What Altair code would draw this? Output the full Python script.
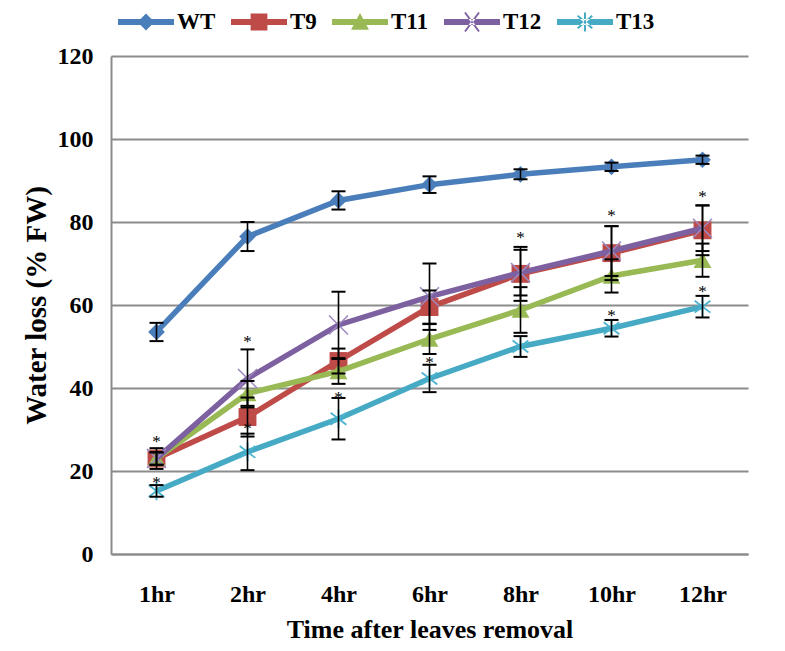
import altair as alt
import pandas as pd

# ---------------- data ----------------
times = ["1hr", "2hr", "4hr", "6hr", "8hr", "10hr", "12hr"]
series_names = ["WT", "T9", "T11", "T12", "T13"]

wt_vals = [53.5, 76.5, 85.2, 89.0, 91.5, 93.3, 95.0]
t9_vals = [23.0, 33.0, 46.5, 59.5, 67.5, 72.5, 78.0]
t11_vals = [23.0, 38.7, 44.0, 51.8, 58.8, 67.0, 70.8]
t12_vals = [23.0, 42.3, 55.2, 62.0, 67.8, 73.0, 78.5]
t13_vals = [15.2, 24.6, 32.6, 42.3, 50.0, 54.4, 59.6]

wt_err = [2.2, 3.5, 2.2, 2.0, 1.2, 1.0, 1.0]
t9_err = [2.5, 4.7, 3.0, 4.0, 6.5, 6.5, 6.0]
t11_err = [1.5, 3.0, 3.0, 3.6, 5.5, 4.0, 4.0]
t12_err = [1.5, 7.0, 8.0, 8.0, 5.5, 6.0, 5.5]
t13_err = [1.4, 4.4, 5.0, 3.3, 2.5, 2.0, 2.6]

star_times = ["1hr", "1hr", "2hr", "2hr", "4hr", "6hr", "8hr", "10hr", "10hr", "12hr", "12hr"]
star_vals = [28.0, 18.0, 52.0, 31.0, 38.5, 47.0, 77.0, 82.5, 58.4, 87.0, 64.0]

# ---------------- styles ----------------
colors = ["#4A7EBB", "#BE4B48", "#98B954", "#7D60A0", "#46AAC5"]
marker_colors = ["#4A7EBB", "#BE4B48", "#98B954", "#9C88BE", "#4BB4D0"]

all_vals = [wt_vals, t9_vals, t11_vals, t12_vals, t13_vals]
all_errs = [wt_err, t9_err, t11_err, t12_err, t13_err]

rows = []
for s, vals, errs in zip(series_names, all_vals, all_errs):
    for t, v, e in zip(times, vals, errs):
        rows.append({"series": s, "time": t, "value": v, "lo": v - e, "hi": v + e})
df = pd.DataFrame(rows)
stars = pd.DataFrame({"time": star_times, "value": star_vals, "label": ["*"] * len(star_times)})

FONT = "Liberation Serif"
GRID = "#8C8C8C"

x_enc = alt.X(
    "time:N", sort=times,
    scale=alt.Scale(type="point", padding=0.5),
    axis=alt.Axis(
        title="Time after leaves removal", labelAngle=0, ticks=False,
        domainColor=GRID, domainWidth=2, grid=False,
        labelFont=FONT, labelFontSize=24, labelFontWeight="bold", labelColor="black",
        labelPadding=28, titleFont=FONT, titleFontSize=26, titleFontWeight="bold",
        titleColor="black", titlePadding=10,
    ),
)
y_scale = alt.Scale(domain=[0, 120], nice=False)
y_axis = alt.Axis(
    title="Water loss (% FW)", values=[0, 20, 40, 60, 80, 100, 120], ticks=False,
    grid=True, gridColor=GRID, gridWidth=2, domainColor=GRID, domainWidth=2,
    labelFont=FONT, labelFontSize=24, labelFontWeight="bold", labelColor="black",
    labelPadding=18, titleFont=FONT, titleFontSize=29, titleFontWeight="bold",
    titleColor="black", titlePadding=6,
)
y_enc = alt.Y("value:Q", scale=y_scale, axis=y_axis)

plot_shapes = [
    ("diamond", True, 280, 1),
    ("square", True, 320, 1),
    ("triangle-up", True, 320, 1),
    ("M-1,-1L1,1M-1,1L1,-1", False, 360, 1.5),
    ("M0,-1L0,1M-0.85,-0.65L0.85,0.65M-0.85,0.65L0.85,-0.65", False, 340, 1.8),
]

base = alt.Chart(df)
layers = []
for s, c, mc, (shp, filled, size, sw) in zip(series_names, colors, marker_colors, plot_shapes):
    sub = base.transform_filter(alt.datum.series == s)
    layers.append(sub.mark_line(color=c, strokeWidth=5.5).encode(x=x_enc, y=y_enc))
    if filled:
        layers.append(sub.mark_point(shape=shp, filled=True, size=size, color=mc, opacity=1)
                      .encode(x=x_enc, y=y_enc))
    else:
        layers.append(sub.mark_point(shape=shp, filled=False, size=size, color=mc,
                                     strokeWidth=sw, opacity=1)
                      .encode(x=x_enc, y=y_enc))

# error bars
err_rule = base.mark_rule(color="black", strokeWidth=1.6).encode(
    x=x_enc, y=alt.Y("lo:Q", scale=y_scale), y2="hi:Q")
cap_lo = base.mark_tick(color="black", size=14, thickness=2, orient="horizontal", opacity=1).encode(
    x=x_enc, y=alt.Y("lo:Q", scale=y_scale))
cap_hi = base.mark_tick(color="black", size=14, thickness=2, orient="horizontal", opacity=1).encode(
    x=x_enc, y=alt.Y("hi:Q", scale=y_scale))
layers += [err_rule, cap_lo, cap_hi]

star_layer = alt.Chart(stars).mark_text(font=FONT, fontSize=17, color="black", baseline="middle", dy=4).encode(
    x=alt.X("time:N", sort=times, scale=alt.Scale(type="point", padding=0.5)),
    y=alt.Y("value:Q", scale=y_scale), text="label:N")
layers.append(star_layer)

# legend (symbols are a line segment with the series marker)
def bar():
    return "M-1,-0.11L1,-0.11L1,0.11L-1,0.11Z"

def seg(x1, y1, x2, y2, w=0.035):
    import math
    dx, dy = x2 - x1, y2 - y1
    L = math.hypot(dx, dy)
    nx, ny = -dy / L * w, dx / L * w
    return (f"M{x1+nx:.3f},{y1+ny:.3f}L{x2+nx:.3f},{y2+ny:.3f}"
            f"L{x2-nx:.3f},{y2-ny:.3f}L{x1-nx:.3f},{y1-ny:.3f}Z")

legend_paths = [
    bar() + "M0,-0.3L0.3,0L0,0.3L-0.3,0Z",
    bar() + "M-0.3,-0.3L0.3,-0.3L0.3,0.3L-0.3,0.3Z",
    bar() + "M0,-0.32L0.32,0.28L-0.32,0.28Z",
    bar() + seg(-0.25, -0.34, 0.25, 0.34) + seg(-0.25, 0.34, 0.25, -0.34),
    bar() + seg(0, -0.34, 0, 0.34) + seg(-0.26, -0.22, 0.26, 0.22) + seg(-0.26, 0.22, 0.26, -0.22),
]
legend_layer = base.transform_filter("datum.value < -1000").mark_point(filled=True, opacity=1).encode(
    x=x_enc, y=y_enc,
    color=alt.Color("series:N", scale=alt.Scale(domain=series_names, range=colors),
                    legend=alt.Legend(title=None, orient="none", direction="horizontal",
                                      legendX=7, legendY=-47, clipHeight=26)),
    shape=alt.Shape("series:N", scale=alt.Scale(domain=series_names, range=legend_paths)),
)
layers.append(legend_layer)

chart = alt.layer(*layers).properties(
    width=637, height=498,
    padding={"left": 103, "top": 48, "right": 29, "bottom": 89},
    autosize=alt.AutoSizeParams(type="none"),
).configure_view(stroke=None).configure_legend(
    symbolSize=3136, symbolStrokeWidth=0, labelFont=FONT, labelFontSize=23,
    labelFontWeight="bold", labelColor="black", labelOffset=3, columnPadding=15,
    symbolOpacity=1,
)

chart.save("out.html", embed_options={"renderer": "svg", "actions": False})
